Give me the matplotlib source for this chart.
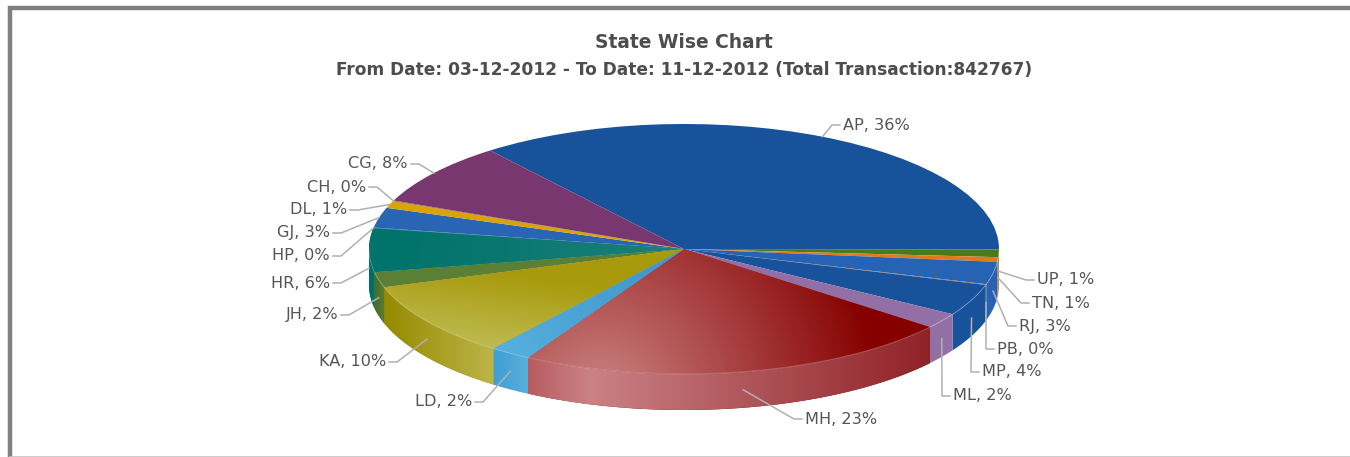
import numpy as np
import matplotlib
matplotlib.use('Agg')
import matplotlib.pyplot as plt
from matplotlib.colors import to_rgb
from matplotlib.patches import Polygon

# clockwise from AP
states = ['AP', 'UP', 'TN', 'RJ', 'PB', 'MP', 'ML', 'MH', 'LD', 'KA', 'JH', 'HR', 'HP', 'GJ', 'DL', 'CH', 'CG']
shares = [35.6, 1.0, 0.6, 2.9, 0.1, 4.1, 2.0, 22.5, 2.1, 9.7, 2.0, 5.6, 0.1, 2.6, 0.9, 0.1, 8.1]
shown = [36, 1, 1, 3, 0, 4, 2, 23, 2, 10, 2, 6, 0, 3, 1, 0, 8]
colors = ['#17529b', '#4b7a1e', '#e07a20', '#2763b5', '#a07060', '#17529b', '#9270a5', '#8a0000', '#4fa8d8',
          '#a89e14', '#5b7f35', '#007a70', '#2f7fa0', '#2a64b4', '#d9a300', '#a06040', '#78376f']

title = 'State Wise Chart'
subtitle = 'From Date: 03-12-2012 - To Date: 11-12-2012 (Total Transaction:842767)'

# label anchors in pixels: x of the text edge nearest the pie, y, side
label_pos = {'AP': (843, 125, 'l'), 'UP': (1037, 280, 'l'), 'TN': (1032, 303, 'l'), 'RJ': (1019, 326, 'l'),
             'PB': (997, 349, 'l'), 'MP': (982, 372, 'l'), 'ML': (953, 396, 'l'), 'MH': (805, 419, 'l'),
             'LD': (472, 402, 'r'), 'KA': (386, 362, 'r'), 'JH': (338, 315, 'r'), 'HR': (330, 283, 'r'),
             'HP': (330, 256, 'r'), 'GJ': (330, 233, 'r'), 'DL': (347, 210, 'r'), 'CH': (366, 187, 'r'),
             'CG': (408, 164, 'r')}

W, H = 1350, 457
cx, cy, rx, ry, depth = 684, 249, 315, 125, 36
start = 232  # screen angle of the first slice, clockwise from 3 o'clock

fig = plt.figure(figsize=(W / 100, H / 100), dpi=100, facecolor='white')

# pie axes: limits squash the round pie into the ellipse
ax = fig.add_axes([0, 0, 1, 1])
lims = [-cx / rx, (W - cx) / rx, (cy - H) / ry, cy / ry]
d = depth / ry


def to_data(px, py):
    return (px - cx) / rx, (cy - py) / ry


gx = np.linspace(lims[0], lims[1], 500)
gy = np.linspace(lims[2], lims[3], 170)
GX, GY = np.meshgrid(gx, gy)


def shade(patch, p0, p1, c0, c1, radial=False):
    # gradient image clipped to a slice or wall
    a, b = to_data(*p0), to_data(*p1)
    if radial:
        k = np.hypot((GX - a[0]) * rx, (GY - a[1]) * ry) / np.hypot((b[0] - a[0]) * rx, (b[1] - a[1]) * ry)
    else:
        dx, dy = (b[0] - a[0]) * rx, (b[1] - a[1]) * ry
        k = ((GX - a[0]) * rx * dx + (GY - a[1]) * ry * dy) / (dx * dx + dy * dy)
    k = np.clip(k, 0, 1)[..., None]
    img = np.array(to_rgb(c0)) * (1 - k) + np.array(to_rgb(c1)) * k
    im = ax.imshow(img, extent=lims, origin='lower', aspect='auto', interpolation='bilinear', zorder=patch.get_zorder())
    im.set_clip_path(patch)


wedges, _ = ax.pie(shares, colors=colors, startangle=360 - start, counterclock=False, radius=1, center=(0, 0),
                   frame=True, wedgeprops={'linewidth': 0, 'zorder': 3})
for w in wedges:
    w.set_zorder(3)

edges = start + np.cumsum([0] + shares) / sum(shares) * 360
mids = (edges[:-1] + edges[1:]) / 2

wall_grads = {'KA': ((384, 0), (494, 0), '#968a00', '#bcb54a'),
              'LD': ((495, 0), (528, 0), '#3f9fd6', '#5cafd9'), 'JH': ((372, 0), (386, 0), '#47691f', '#5b7f35'),
              'HR': ((370, 0), (380, 0), '#006c66', '#007a70')}

# front walls, only where the rim faces the viewer
for i, s in enumerate(states):
    for lo, hi in ((0, 180), (360, 540)):
        t0, t1 = max(edges[i], lo), min(edges[i + 1], hi)
        if t1 <= t0:
            continue
        t = np.radians(np.linspace(t0, t1, 60))
        top = np.c_[np.cos(t), -np.sin(t)]
        bot = np.c_[np.cos(t[::-1]), -np.sin(t[::-1]) - d]
        wall = Polygon(np.r_[top, bot], closed=True, facecolor=colors[i], edgecolor='none', zorder=2)
        ax.add_patch(wall)
        if s == 'MH':
            # pale band near x=590, darkening out to the right end
            shade(wall, (590, 0), (930, 0), '#cb8285', '#8f2228')
            left = Polygon(np.r_[top, bot], closed=True, facecolor='none', edgecolor='none', zorder=2.1)
            ax.add_patch(left)
            k = np.clip((GX * rx + cx - 528) / (590 - 528), 0, 1)[..., None]
            img = np.array(to_rgb('#b85c60')) * (1 - k) + np.array(to_rgb('#cb8285')) * k
            alpha = (GX * rx + cx < 590).astype(float)[..., None]
            im = ax.imshow(np.dstack([img, alpha]), extent=lims, origin='lower', aspect='auto', zorder=2.1)
            im.set_clip_path(left)
        elif s in wall_grads:
            p0, p1, c0, c1 = wall_grads[s]
            shade(wall, p0, p1, c0, c1)

# gradients on the top faces
idx = {s: i for i, s in enumerate(states)}
shade(wedges[idx['MH']], (600, 400), (865, 315), '#cc8585', '#860000', radial=True)
shade(wedges[idx['KA']], (500, 272), (490, 345), '#a89a0c', '#bdb94e')
shade(wedges[idx['HR']], (400, 235), (660, 260), '#00736a', '#1a7f78')
shade(wedges[idx['LD']], (640, 255), (510, 350), '#4298cc', '#55aedc')

# faint rim highlight
t = np.radians(np.linspace(0, 180, 200))
ax.plot(np.cos(t), -np.sin(t), color='white', alpha=0.22, lw=0.8, zorder=4)

ax.set_xlim(lims[0], lims[1])
ax.set_ylim(lims[2], lims[3])
ax.set_aspect('auto')
ax.axis('off')

# overlay in pixel coordinates for frame, titles, labels
ov = fig.add_axes([0, 0, 1, 1])
ov.set_xlim(0, W)
ov.set_ylim(H, 0)
ov.axis('off')
ov.patch.set_alpha(0)

ov.plot([10, 10, W], [H, 7.5, 7.5], color='#808080', lw=3.2, solid_joinstyle='miter', solid_capstyle='butt')
ov.plot([10, W], [456.5, 456.5], color='#c4c4c4', lw=1.2)

ov.text(684, 43, title, ha='center', va='center', fontsize=13.4, fontweight='bold', color='#4d4d4d')
ov.text(684, 70, subtitle, ha='center', va='center', fontsize=12.25, fontweight='bold', color='#4d4d4d')

for i, s in enumerate(states):
    a = np.radians(mids[i])
    sx = cx + rx * np.cos(a)
    sy = cy + ry * np.sin(a)
    if np.sin(a) > 0:
        sy += depth / 2
    lx, ly, side = label_pos[s]
    sign = -1 if side == 'l' else 1
    ov.plot([sx, lx + sign * 11, lx + sign * 3], [sy, ly, ly], color='#b0b0b0', lw=1.1, zorder=5,
            solid_joinstyle='round')
    ov.text(lx, ly, f'{s}, {shown[i]}%', ha='left' if side == 'l' else 'right', va='center', fontsize=11.6,
            color='#555555', zorder=6)

fig.savefig('out.png', dpi=100)
